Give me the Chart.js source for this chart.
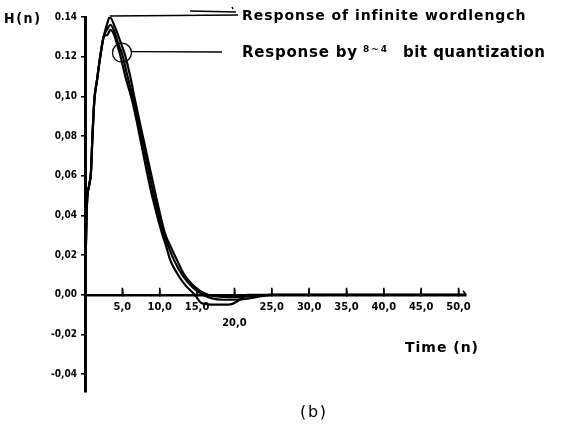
<!DOCTYPE html>
<html>
<head>
<meta charset="utf-8">
<script src="https://cdn.jsdelivr.net/npm/chart.js@4.4.1/dist/chart.umd.min.js"></script>
<style>
html,body{margin:0;padding:0;background:#fff;}
canvas{display:block;}
</style>
</head>
<body>
<canvas id="c" width="563" height="427"></canvas>
<script>
// ---- data ----
// shared rising edge
const nRise = [0, 0.25, 0.55, 0.8, 1.0, 1.25, 1.6, 2.0, 2.5];
const hRise = [0, 0.045, 0.055, 0.062, 0.080, 0.098, 0.108, 0.119, 0.130];

// Response of infinite wordlength (highest peak)
const nInfinite = [3.0, 3.3, 4.0, 4.7, 5.35, 6.0, 6.7, 7.5, 8.2, 8.9, 9.6, 10.7, 11.5, 12.3, 13.3, 14.4, 15.4, 16.5, 18, 20, 22.5, 25, 51];
const hInfinite = [0.137, 0.140, 0.135, 0.128, 0.121, 0.111, 0.098, 0.084, 0.072, 0.060, 0.048, 0.031, 0.024, 0.0176, 0.010, 0.005, 0.002, 0.0, -0.001, -0.0012, -0.0006, 0, 0];

// Responses by 8~4 bit quantization
const nQuantA = [3.0, 3.4, 4.0, 4.5, 5.0, 5.7, 6.5, 7.3, 8.0, 8.7, 9.35, 10.5, 11.2, 11.9, 13.1, 14.5, 15.8, 17, 18.5, 20.3, 22.5, 24.8, 51];
const hQuantA = [0.134, 0.136, 0.132, 0.126, 0.121, 0.110, 0.098, 0.084, 0.072, 0.059, 0.048, 0.031, 0.024, 0.0176, 0.0095, 0.0035, 0, -0.0018, -0.0025, -0.0025, -0.0015, 0, 0];

const nQuantB = [3.0, 3.4, 3.9, 4.3, 4.7, 5.4, 6.3, 7.0, 7.8, 8.5, 9.1, 10.3, 10.9, 11.4, 12.3, 13.4, 14.7, 15.6, 17.5, 19.5, 20.5, 21.7, 51];
const hQuantB = [0.131, 0.1335, 0.131, 0.126, 0.121, 0.110, 0.098, 0.086, 0.071, 0.058, 0.048, 0.031, 0.024, 0.0176, 0.011, 0.005, 0, -0.0042, -0.005, -0.0048, -0.003, 0, 0];

const xTicks = [5, 10, 15, 20, 25, 30, 35, 40, 45, 50];
const xTickLabels = ['5,0', '10,0', '15,0', ['', '20,0'], '25,0', '30,0', '35,0', '40,0', '45,0', '50,0'];
const yTicks = [-0.04, -0.02, 0, 0.02, 0.04, 0.06, 0.08, 0.10, 0.12, 0.14];
const yTickLabels = ['-0,04', '-0,02', '0,00', '0,02', '0,04', '0,06', '0,08', '0,10', '0.12', '0.14'];

const labelInfinite = 'Response of infinite wordlengch';
const labelQuantPre = 'Response by';
const labelQuantBits = '8~4';
const labelQuantPost = 'bit quantization';
const yTitle = 'H(n)';
const xTitle = 'Time (n)';
const caption = '(b)';

// ---- build datasets ----
function pts(ns, hs) { return ns.map((n, i) => ({x: n, y: hs[i]})); }
const riseSeg = pts(nRise, hRise);
function series(ns, hs) { return riseSeg.concat(pts(ns, hs)); }

const lineStyle = {
  borderColor: '#000', borderWidth: 2.2, pointRadius: 0, fill: false,
  cubicInterpolationMode: 'monotone', tension: 0.4
};

// draw text stretched to a target width
function fitText(ctx, str, x, y, width) {
  ctx.letterSpacing = '0px';
  const w = ctx.measureText(str).width;
  const sp = str.length > 1 ? Math.max(0, (width - w) / (str.length - 1)) : 0;
  ctx.letterSpacing = sp.toFixed(2) + 'px';
  ctx.fillText(str, x, y);
  ctx.letterSpacing = '0px';
}

const annot = {
  id: 'annot',
  afterDraw(chart) {
    const {ctx} = chart;
    const xs = chart.scales.x, ys = chart.scales.y;
    ctx.save();
    ctx.strokeStyle = '#000';
    ctx.fillStyle = '#000';

    // upward tick marks on the time axis
    const y0 = ys.getPixelForValue(0);
    ctx.lineWidth = 1.6;
    xTicks.forEach(v => {
      const px = xs.getPixelForValue(v);
      ctx.beginPath();
      ctx.moveTo(px, y0);
      ctx.lineTo(px, y0 - 7);
      ctx.stroke();
    });
    // little arrow tip at the end of the time axis
    const xEnd = xs.right;
    ctx.lineWidth = 1.5;
    ctx.beginPath();
    ctx.moveTo(xEnd - 3, y0 - 4);
    ctx.lineTo(xEnd, y0);
    ctx.stroke();

    // pointer to the peak of the infinite-wordlength response
    let iMax = 0;
    hInfinite.forEach((h, i) => { if (h > hInfinite[iMax]) iMax = i; });
    const pX = xs.getPixelForValue(nInfinite[iMax]);
    const pY = ys.getPixelForValue(hInfinite[iMax]);
    ctx.lineWidth = 1.5;
    ctx.beginPath();
    ctx.moveTo(pX, pY - 1);
    ctx.lineTo(238, 15);
    ctx.stroke();
    ctx.beginPath();
    ctx.moveTo(190, 11);
    ctx.lineTo(236, 12);
    ctx.stroke();
    ctx.beginPath();
    ctx.moveTo(232, 7); ctx.lineTo(233, 9);
    ctx.stroke();

    // circle around quantized responses + pointer
    const cX = xs.getPixelForValue(4.95);
    const cY = ys.getPixelForValue(0.122);
    const r = 9.5;
    ctx.lineWidth = 1.3;
    ctx.beginPath();
    ctx.arc(cX, cY, r, 0, Math.PI * 2);
    ctx.stroke();
    ctx.beginPath();
    ctx.moveTo(cX + r, cY - 1);
    ctx.lineTo(222, 52);
    ctx.stroke();

    // annotation texts
    ctx.textBaseline = 'middle';
    ctx.textAlign = 'left';
    ctx.font = 'bold 14px "DejaVu Sans"';
    fitText(ctx, labelInfinite, 242, 16, 283);
    ctx.font = 'bold 15px "DejaVu Sans"';
    fitText(ctx, labelQuantPre, 242, 53, 115);
    ctx.font = 'bold 9px "DejaVu Sans"';
    fitText(ctx, labelQuantBits, 363, 50, 24);
    ctx.font = 'bold 15px "DejaVu Sans"';
    fitText(ctx, labelQuantPost, 403, 53, 142);

    // axis titles and caption
    ctx.font = 'bold 14px "DejaVu Sans Condensed"';
    fitText(ctx, yTitle, 4, 19, 36);
    ctx.font = 'bold 14px "DejaVu Sans"';
    fitText(ctx, xTitle, 405, 348, 73);
    ctx.font = '16px "DejaVu Sans"';
    fitText(ctx, caption, 300, 413, 26);
    ctx.restore();
  }
};

new Chart(document.getElementById('c'), {
  type: 'line',
  data: {
    datasets: [
      Object.assign({label: labelInfinite, data: series(nInfinite, hInfinite)}, lineStyle),
      Object.assign({label: 'Quantized A', data: series(nQuantA, hQuantA)}, lineStyle),
      Object.assign({label: 'Quantized B', data: series(nQuantB, hQuantB)}, lineStyle)
    ]
  },
  options: {
    responsive: false,
    animation: false,
    layout: {padding: {left: 0, top: 17, right: 97, bottom: 35}},
    plugins: {legend: {display: false}, tooltip: {enabled: false}},
    scales: {
      x: {
        type: 'linear',
        min: 0, max: 51,
        position: {y: 0},
        afterFit(s) { s.height = 0; },
        afterBuildTicks(s) { s.ticks = xTicks.map(v => ({value: v})); },
        grid: {drawOnChartArea: false, drawTicks: true, tickLength: -7, color: '#000', lineWidth: 1.6},
        border: {display: true, color: '#000', width: 2.5},
        ticks: {
          color: '#000', padding: 12, maxRotation: 0, autoSkip: false,
          font: {family: '"DejaVu Sans Condensed"', weight: 'bold', size: 11, lineHeight: 1.4},
          callback: (v, i) => xTickLabels[i]
        }
      },
      y: {
        type: 'linear',
        min: -0.049, max: 0.14,
        position: 'left',
        afterFit(s) { s.width = 85; },
        afterBuildTicks(s) { s.ticks = yTicks.map(v => ({value: v})); },
        grid: {drawOnChartArea: false, drawTicks: true, tickLength: 4, color: '#000', lineWidth: 1.6},
        border: {display: true, color: '#000', width: 3},
        ticks: {
          color: '#000', padding: 4, autoSkip: false,
          font: {family: '"DejaVu Sans Condensed"', weight: 'bold', size: 10},
          callback: (v, i) => yTickLabels[i]
        }
      }
    }
  },
  plugins: [annot]
});
</script>
</body>
</html>
